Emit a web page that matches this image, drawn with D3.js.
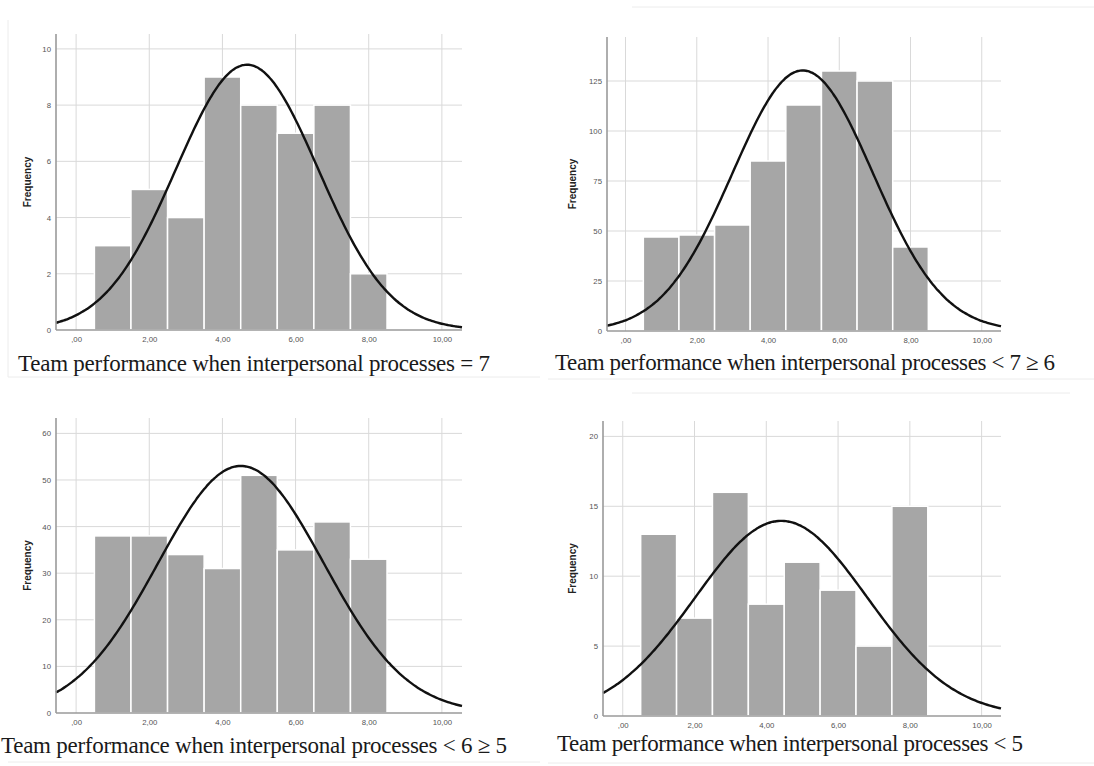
<!DOCTYPE html>
<html>
<head>
<meta charset="utf-8">
<script src="https://cdn.jsdelivr.net/npm/d3@7"></script>
<style>
  body { margin: 0; background: #fff; }
  svg { display: block; }
</style>
</head>
<body>
<div id="chart"></div>
<script>
// bins are centred on whole scores, width 1
const binCenters = [1, 2, 3, 4, 5, 6, 7, 8];

const freqEq7 = [3, 5, 4, 9, 8, 7, 8, 2];
const freq6to7 = [47, 48, 53, 85, 113, 130, 125, 42];
const freq5to6 = [38, 38, 34, 31, 51, 35, 41, 33];
const freqBelow5 = [13, 7, 16, 8, 11, 9, 5, 15];

const xTicks = [0, 2, 4, 6, 8, 10];
const xTickLabels = [",00", "2,00", "4,00", "6,00", "8,00", "10,00"];

const yTicksEq7 = [0, 2, 4, 6, 8, 10];
const yTicks6to7 = [0, 25, 50, 75, 100, 125];
const yTicks5to6 = [0, 10, 20, 30, 40, 50, 60];
const yTicksBelow5 = [0, 5, 10, 15, 20];

const captions = [
    "Team performance when interpersonal processes = 7",
    "Team performance when interpersonal processes < 7 \u2265 6",
    "Team performance when interpersonal processes < 6 \u2265 5",
    "Team performance when interpersonal processes < 5"
];

const width = 1094
const height = 766

const svg = d3.select("#chart").append("svg")
    .attr("width", width)
    .attr("height", height)

// faint frame lines left over from the pasted screenshots
const frames = [
    [8, 377, 540, 377], [8, 20, 8, 377],
    [632, 7, 1094, 7], [548, 379, 1094, 379],
    [632, 393, 1070, 393], [8, 762, 540, 762], [548, 763, 1094, 763]
]
svg.selectAll(".frame").data(frames).enter().append("line")
    .attr("class", "frame")
    .attr("x1", d => d[0]).attr("y1", d => d[1])
    .attr("x2", d => d[2]).attr("y2", d => d[3])
    .style("stroke", "#ececec").style("stroke-width", 1)

function histogram(opt){
    const g = svg.append("g")

    const x = d3.scaleLinear().domain(opt.xDomain).range([opt.left, opt.right])
    const y = d3.scaleLinear().domain(opt.yDomain).range([opt.bottom, opt.top])

    // grid
    g.selectAll(".vgrid").data(xTicks).enter().append("line")
        .attr("x1", d => x(d)).attr("x2", d => x(d))
        .attr("y1", opt.top).attr("y2", opt.bottom)
        .style("stroke", "#d9d9d9").style("stroke-width", 1)
    g.selectAll(".hgrid").data(opt.yTicks.filter(v => v > 0)).enter().append("line")
        .attr("x1", opt.left).attr("x2", opt.right)
        .attr("y1", d => y(d)).attr("y2", d => y(d))
        .style("stroke", "#d9d9d9").style("stroke-width", 1)

    // bars
    g.selectAll(".bar").data(opt.freq).enter().append("rect")
        .attr("x", (d, i) => x(binCenters[i] - 0.5))
        .attr("width", (d, i) => x(binCenters[i] + 0.5) - x(binCenters[i] - 0.5))
        .attr("y", d => y(d))
        .attr("height", d => y(0) - y(d))
        .style("fill", "#a6a6a6")
        .style("stroke", "#fff")
        .style("stroke-width", 1.5)

    // normal curve fitted to the binned scores
    const n = d3.sum(opt.freq)
    const mean = d3.sum(opt.freq, (f, i) => f * binCenters[i]) / n
    const sd = Math.sqrt(d3.sum(opt.freq, (f, i) => f * (binCenters[i] - mean) ** 2) / (n - 1))
    const pts = d3.range(0, 201).map(k => {
        const xv = opt.xDomain[0] + (opt.xDomain[1] - opt.xDomain[0]) * k / 200
        const dens = Math.exp(-0.5 * ((xv - mean) / sd) ** 2) / (sd * Math.sqrt(2 * Math.PI))
        return [xv, n * dens]
    })
    g.append("path")
        .datum(pts)
        .attr("d", d3.line().x(d => x(d[0])).y(d => y(d[1])).curve(d3.curveBasis))
        .style("fill", "none")
        .style("stroke", "#111")
        .style("stroke-width", 2.4)

    // axes
    const yAxis = d3.axisLeft(y).tickValues(opt.yTicks).tickSize(0).tickPadding(5)
    const xAxis = d3.axisBottom(x).tickValues(xTicks).tickSize(0).tickPadding(6)
        .tickFormat((d, i) => xTickLabels[i])

    const ya = g.append("g").attr("transform", `translate(${opt.left},0)`).call(yAxis)
    const xa = g.append("g").attr("transform", `translate(0,${opt.bottom})`).call(xAxis)
    ya.select(".domain").attr("d", `M0,${opt.top}V${opt.bottom}`)
    xa.select(".domain").attr("d", `M${opt.left},0H${opt.right}`)
    g.selectAll(".domain").style("stroke", "#9a9a9a").style("stroke-width", 1.6)
    g.selectAll(".tick text")
        .style("font-family", "Liberation Sans, Arial, sans-serif")
        .style("font-size", "7.8px")
        .style("fill", "#555")

    g.append("text")
        .attr("transform", `translate(${opt.labelX},${(opt.top + opt.bottom) / 2}) rotate(-90)`)
        .attr("text-anchor", "middle")
        .style("font-family", "Liberation Sans, Arial, sans-serif")
        .style("font-weight", "bold")
        .style("font-size", "10px")
        .style("fill", "#222")
        .text("Frequency")

    g.append("text")
        .attr("x", opt.capX)
        .attr("y", opt.capY)
        .attr("textLength", opt.capW)
        .attr("lengthAdjust", "spacing")
        .style("font-family", "Liberation Serif, Times New Roman, serif")
        .style("font-size", "23px")
        .style("fill", "#1a1a1a")
        .text(opt.caption)
}

histogram({freq: freqEq7, yTicks: yTicksEq7, caption: captions[0],
    left: 56, right: 462, top: 34, bottom: 330,
    xDomain: [-0.55, 10.55], yDomain: [0, 10.53],
    labelX: 31, capX: 18, capY: 371, capW: 472})

histogram({freq: freq6to7, yTicks: yTicks6to7, caption: captions[1],
    left: 607, right: 1001, top: 37, bottom: 331,
    xDomain: [-0.52, 10.54], yDomain: [0, 147],
    labelX: 576, capX: 555, capY: 370, capW: 500})

histogram({freq: freq5to6, yTicks: yTicks5to6, caption: captions[2],
    left: 56, right: 462, top: 418, bottom: 713,
    xDomain: [-0.55, 10.55], yDomain: [0, 63.3],
    labelX: 31, capX: 1, capY: 753, capW: 506})

histogram({freq: freqBelow5, yTicks: yTicksBelow5, caption: captions[3],
    left: 603, right: 1001, top: 421, bottom: 716,
    xDomain: [-0.55, 10.54], yDomain: [0, 21.1],
    labelX: 576, capX: 557, capY: 751, capW: 466})
</script>
</body>
</html>
